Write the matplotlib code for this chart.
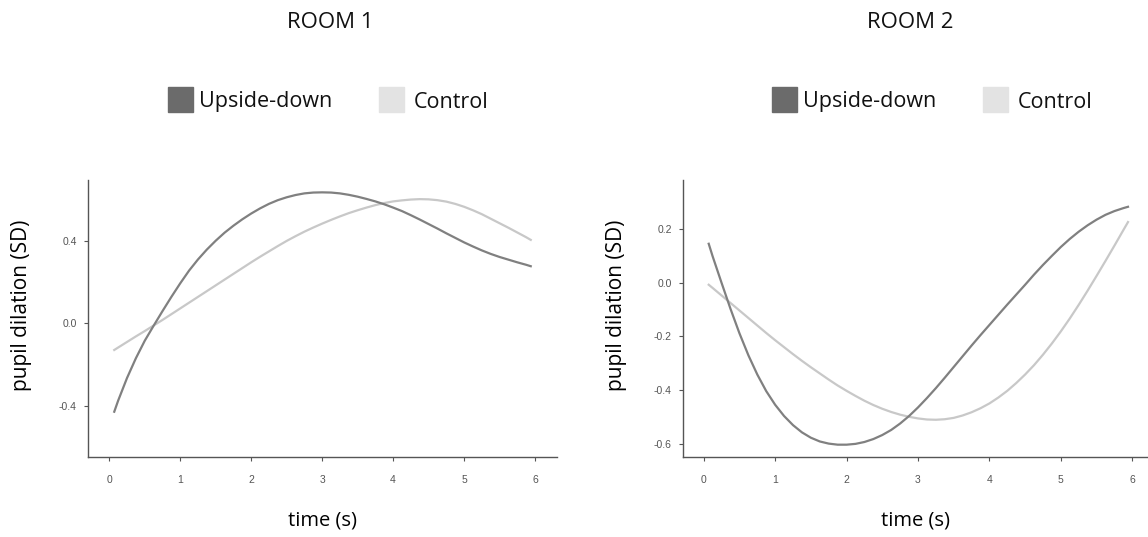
import matplotlib
matplotlib.use("Agg")
from matplotlib import pyplot as plt
from matplotlib.patches import Rectangle

# time points (s)
time = [0.07, 0.125, 0.25, 0.375, 0.5, 0.625, 0.75, 0.875, 1.0, 1.125, 1.25, 1.375,
        1.5, 1.625, 1.75, 1.875, 2.0, 2.125, 2.25, 2.375, 2.5, 2.625, 2.75, 2.875,
        3.0, 3.125, 3.25, 3.375, 3.5, 3.625, 3.75, 3.875, 4.0, 4.125, 4.25, 4.375,
        4.5, 4.625, 4.75, 4.875, 5.0, 5.125, 5.25, 5.375, 5.5, 5.625, 5.75, 5.875,
        5.94]

room1_upside = [-0.430, -0.376, -0.266, -0.170, -0.085, -0.012, 0.059, 0.128, 0.194,
                0.256, 0.310, 0.358, 0.401, 0.440, 0.474, 0.505, 0.533, 0.558, 0.580,
                0.598, 0.612, 0.623, 0.631, 0.635, 0.636, 0.635, 0.631, 0.624, 0.615,
                0.604, 0.592, 0.578, 0.562, 0.545, 0.525, 0.504, 0.482, 0.460, 0.437,
                0.415, 0.393, 0.373, 0.354, 0.337, 0.322, 0.309, 0.296, 0.284, 0.277]
room1_control = [-0.130, -0.118, -0.091, -0.064, -0.038, -0.011, 0.016, 0.044, 0.072,
                 0.100, 0.128, 0.156, 0.184, 0.212, 0.240, 0.268, 0.296, 0.323, 0.349,
                 0.375, 0.400, 0.423, 0.445, 0.465, 0.484, 0.502, 0.519, 0.535, 0.549,
                 0.562, 0.574, 0.584, 0.592, 0.597, 0.601, 0.603, 0.602, 0.598, 0.591,
                 0.580, 0.566, 0.549, 0.530, 0.508, 0.486, 0.464, 0.441, 0.418, 0.405]

room2_upside = [0.146, 0.099, 0.0, -0.097, -0.188, -0.270, -0.342, -0.404, -0.455,
                -0.497, -0.531, -0.558, -0.578, -0.592, -0.600, -0.604, -0.604, -0.601,
                -0.594, -0.583, -0.568, -0.549, -0.525, -0.497, -0.465, -0.430, -0.393,
                -0.354, -0.314, -0.274, -0.234, -0.195, -0.157, -0.119, -0.081, -0.044,
                -0.007, 0.031, 0.067, 0.101, 0.134, 0.164, 0.191, 0.215, 0.236, 0.254,
                0.268, 0.279, 0.284]
room2_control = [-0.007, -0.019, -0.047, -0.075, -0.103, -0.131, -0.159, -0.187, -0.214,
                 -0.240, -0.266, -0.291, -0.315, -0.338, -0.361, -0.383, -0.403, -0.422,
                 -0.440, -0.456, -0.470, -0.482, -0.492, -0.500, -0.506, -0.510, -0.511,
                 -0.509, -0.504, -0.495, -0.483, -0.468, -0.450, -0.428, -0.403, -0.374,
                 -0.342, -0.307, -0.268, -0.226, -0.181, -0.133, -0.082, -0.029, 0.026,
                 0.082, 0.139, 0.197, 0.227]

x_ticks = [0, 1, 2, 3, 4, 5, 6]
room1_yticks = [-0.4, 0.0, 0.4]
room2_yticks = [-0.6, -0.4, -0.2, 0.0, 0.2]

titles = ["ROOM 1", "ROOM 2"]
series_names = ["Upside-down", "Control"]

DARK = "#808080"
LIGHT = "#c8c8c8"
PATCH_DARK = "#6b6b6b"
PATCH_LIGHT = "#e3e3e3"
LABEL_FONT = "Open Sans"
TICK_FONT = "Liberation Sans"

W, H = 1148, 537
fig = plt.figure(figsize=(W / 100, H / 100), dpi=100)


def px_box(x0, x1, y_top, y_bottom):
    return [x0 / W, 1 - y_bottom / H, (x1 - x0) / W, (y_bottom - y_top) / H]


def style_axes(ax, yticks, width_px):
    for side in ["top", "right"]:
        ax.spines[side].set_visible(False)
    for side in ["left", "bottom"]:
        ax.spines[side].set_color("#555555")
        ax.spines[side].set_linewidth(1.0)
    ax.set_xticks(x_ticks)
    ax.set_yticks(yticks)
    ax.set_xticklabels([str(t) for t in x_ticks])
    ax.set_yticklabels(["%.1f" % t for t in yticks])
    ax.tick_params(axis="both", length=3, width=0.8, color="#555555",
                   labelsize=7.5, labelcolor="#555555", pad=5)
    ax.tick_params(axis="x", pad=10)
    for lab in ax.get_xticklabels() + ax.get_yticklabels():
        lab.set_fontfamily(TICK_FONT)
    ax.set_xlabel("time (s)", fontsize=14.5, family=LABEL_FONT, labelpad=18)
    ax.set_ylabel("pupil dilation (SD)", fontsize=15, family=LABEL_FONT)
    # label sits 56 px left of the spine, a little above the middle
    ax.yaxis.set_label_coords(-56 / width_px, (457 - 305) / 277)


ax1 = fig.add_axes(px_box(88, 557, 180, 457))
ax1.plot(time, room1_control, color=LIGHT, lw=1.6)
ax1.plot(time, room1_upside, color=DARK, lw=1.6)
ax1.set_xlim(-0.30, 6.31)
ax1.set_ylim(-0.650, 0.696)
style_axes(ax1, room1_yticks, 469)

ax2 = fig.add_axes(px_box(683, 1148, 180, 457))
ax2.plot(time, room2_control, color=LIGHT, lw=1.6)
ax2.plot(time, room2_upside, color=DARK, lw=1.6)
ax2.set_xlim(-0.29, 6.22)
ax2.set_ylim(-0.650, 0.384)
style_axes(ax2, room2_yticks, 465)

# titles and legends drawn in figure pixels
title_x = [330, 910]
legend_x = [168, 772]
for i in range(2):
    fig.text(title_x[i] / W, 1 - 22 / H, titles[i], ha="center", va="center",
             fontsize=16, family=LABEL_FONT, color="#111111")
    lx = legend_x[i]
    fig.patches.append(Rectangle((lx / W, 1 - 112 / H), 25 / W, 25 / H,
                                 transform=fig.transFigure, color=PATCH_DARK))
    fig.text((lx + 31) / W, 1 - 102 / H, series_names[0], ha="left", va="center",
             fontsize=15.5, family=LABEL_FONT, color="#111111")
    fig.patches.append(Rectangle(((lx + 211) / W, 1 - 112 / H), 25 / W, 25 / H,
                                 transform=fig.transFigure, color=PATCH_LIGHT))
    fig.text((lx + 246) / W, 1 - 102 / H, series_names[1], ha="left", va="center",
             fontsize=15.5, family=LABEL_FONT, color="#111111")

fig.savefig("out.png", dpi=100)
